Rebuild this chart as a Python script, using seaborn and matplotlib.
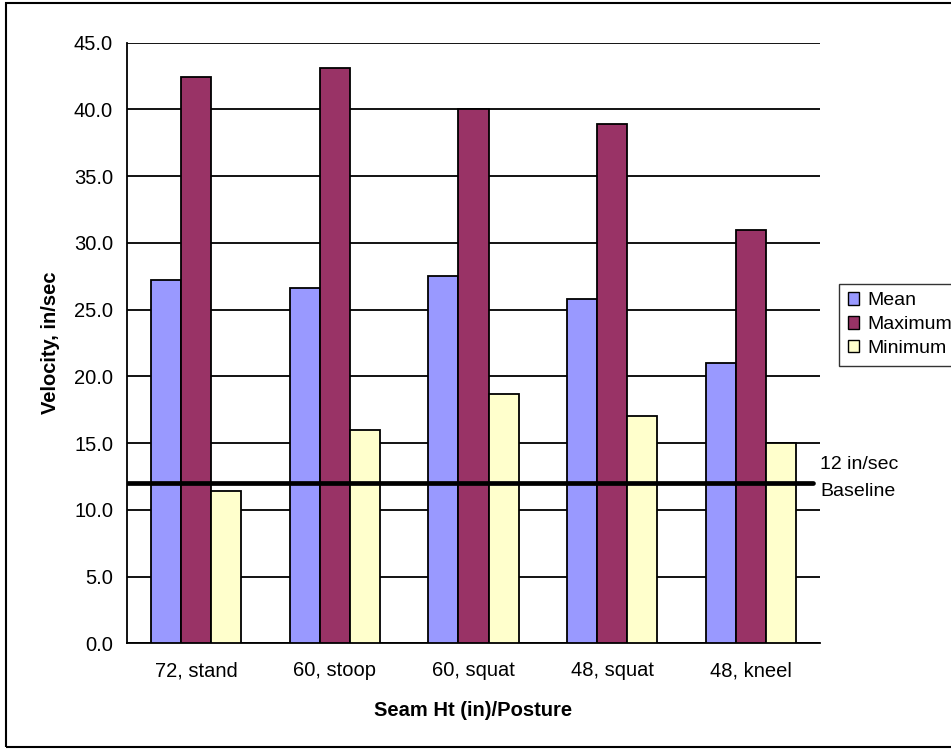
import matplotlib
matplotlib.use("Agg")
import matplotlib.pyplot as plt
import matplotlib.patches as mpatches
import seaborn as sns
import pandas as pd
import numpy as np

# Data
categories = ["72, stand", "60, stoop", "60, squat", "48, squat", "48, kneel"]
series_names = ["Mean", "Maximum", "Minimum"]
mean_vals = [27.2, 26.6, 27.5, 25.8, 21.0]
max_vals = [42.4, 43.1, 40.0, 38.9, 31.0]
min_vals = [11.4, 16.0, 18.7, 17.0, 15.0]
baseline = 12.0
y_ticks = [0, 5, 10, 15, 20, 25, 30, 35, 40, 45]

colors = {"Mean": "#9999FF", "Maximum": "#993366", "Minimum": "#FFFFCC"}

df = pd.DataFrame({
    "Posture": categories * 3,
    "Series": sum([[s] * len(categories) for s in series_names], []),
    "Velocity": mean_vals + max_vals + min_vals,
})

sns.set_style("white")
plt.rcParams["font.family"] = ["Liberation Sans", "DejaVu Sans"]
plt.rcParams.update({"text.color": "black", "axes.labelcolor": "black",
                     "xtick.color": "black", "ytick.color": "black"})

fig = plt.figure(figsize=(9.51, 7.5), dpi=100)
ax = fig.add_axes([0.1335, 0.1423, 0.8623 - 0.1335, 0.9431 - 0.1423])

sns.barplot(data=df, x="Posture", y="Velocity", hue="Series",
            order=categories, hue_order=series_names, palette=colors,
            width=0.65, saturation=1, edgecolor="black", linewidth=1.3,
            ax=ax, legend=False, zorder=3)

ax.set_ylim(0, 45)
ax.set_xlim(-0.5, len(categories) - 0.5)
ax.set_yticks(y_ticks)
ax.set_yticklabels([f"{v:.1f}" for v in y_ticks], fontsize=14.5)
ax.yaxis.grid(True, color="black", linewidth=1.3, zorder=0)
ax.set_axisbelow(True)

# category labels centred, tick marks on the group boundaries
ax.set_xticks(range(len(categories)))
ax.set_xticklabels(categories, fontsize=14.5)
ax.tick_params(axis="x", which="major", length=0, pad=13)
ax.set_xticks(np.arange(-0.5, len(categories), 1.0), minor=True)
ax.tick_params(axis="x", which="minor", length=6, width=1.3, color="black", direction="out")
ax.tick_params(axis="y", which="major", length=6, width=1.3, color="black", direction="out", pad=4)

for side in ["top", "right"]:
    ax.spines[side].set_visible(False)
for side in ["left", "bottom"]:
    ax.spines[side].set_color("black")
    ax.spines[side].set_linewidth(1.3)

ax.set_xlabel("Seam Ht (in)/Posture", fontsize=14.5, fontweight="bold", labelpad=15)
ax.set_ylabel("Velocity, in/sec", fontsize=14.5, fontweight="bold", labelpad=10)

# 12 in/sec baseline
ax.axhline(baseline, xmin=0, xmax=0.99, color="black", linewidth=3.4, zorder=4)
ax.text(1.0, baseline + 1.4, "12 in/sec", transform=ax.get_yaxis_transform(),
        fontsize=14, va="center", ha="left")
ax.text(1.0, baseline - 0.6, "Baseline", transform=ax.get_yaxis_transform(),
        fontsize=14, va="center", ha="left")

# legend
handles = [mpatches.Patch(facecolor=colors[s], edgecolor="black", linewidth=1.0, label=s)
           for s in series_names]
leg = fig.legend(handles=handles, loc="center left", bbox_to_anchor=(0.882, 0.567),
                 fontsize=14, frameon=True, fancybox=False, edgecolor="black",
                 handlelength=0.6, handleheight=0.6, handletextpad=0.4,
                 labelspacing=0.35, borderpad=0.45, borderaxespad=0)
leg.get_frame().set_linewidth(1.0)

# outer chart frame
fig.patches.append(mpatches.Rectangle((0.006, 0.004), 1.0, 0.992, transform=fig.transFigure,
                                      fill=False, edgecolor="black", linewidth=1.5))

fig.savefig("out.png", dpi=100)
